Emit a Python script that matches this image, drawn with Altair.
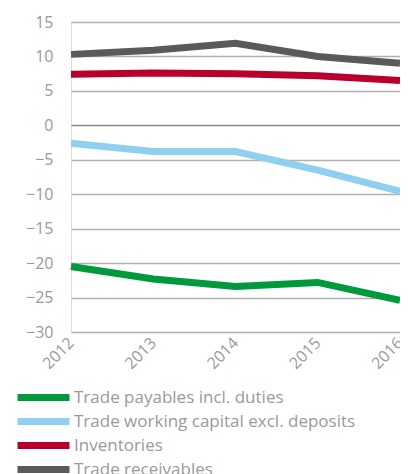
import altair as alt
import pandas as pd

years = ["2012", "2013", "2014", "2015", "2016"]
series_names = [
    "Trade payables incl. duties",
    "Trade working capital excl. deposits",
    "Inventories",
    "Trade receivables",
]
payables = [-20.5, -22.3, -23.4, -22.8, -25.4]
working_capital = [-2.6, -3.8, -3.8, -6.5, -9.6]
inventories = [7.4, 7.6, 7.5, 7.2, 6.5]
receivables = [10.3, 10.9, 11.9, 10.0, 9.0]
colors = ["#009a3c", "#8fd0f0", "#b8002c", "#5a5a5a"]
y_ticks = [15, 10, 5, 0, -5, -10, -15, -20, -25, -30]

rows = []
for name, vals in zip(series_names, [payables, working_capital, inventories, receivables]):
    for y, v in zip(years, vals):
        rows.append({"year": y, "value": v, "series": name})
df = pd.DataFrame(rows)

FONT = "Open Sans"
GREY = "#9a9a9a"

chart = alt.Chart(df).mark_line(strokeWidth=7, strokeCap="butt").encode(
    x=alt.X("year:N", sort=years, title=None,
            scale=alt.Scale(type="point", padding=0),
            axis=alt.Axis(labelAngle=-45, labelAlign="right", labelBaseline="middle",
                          labelPadding=8, ticks=False, domain=False, grid=False,
                          labelFont=FONT, labelFontSize=16, labelColor=GREY)),
    y=alt.Y("value:Q", title=None,
            scale=alt.Scale(domain=[-30, 15], nice=False),
            axis=alt.Axis(values=y_ticks, ticks=False, domain=False, labelPadding=18,
                          labelFont=FONT, labelFontSize=16, labelColor=GREY,
                          gridColor={"condition": {"test": "datum.value === 0", "value": "#888888"},
                                     "value": "#b0b0b0"},
                          gridWidth=1.3)),
    color=alt.Color("series:N", sort=series_names,
                    scale=alt.Scale(domain=series_names, range=colors),
                    legend=alt.Legend(orient="none", legendX=-37.5, legendY=365.5, title=None,
                                      symbolType="M-4,0L4,0", symbolSize=169,
                                      symbolStrokeWidth=7, labelOffset=20.5,
                                      rowPadding=-4.5, labelFont=FONT, labelFontSize=17,
                                      labelColor=GREY, labelLimit=400)),
    order=alt.Order("series:N"),
).properties(
    width=329, height=310,
    autosize=alt.AutoSizeParams(type="none"),
    padding={"left": 63, "top": 14, "right": 0, "bottom": 142},
).configure_view(stroke=None).configure(background="white")

chart.save("out.html", embed_options={"renderer": "svg", "actions": False})
